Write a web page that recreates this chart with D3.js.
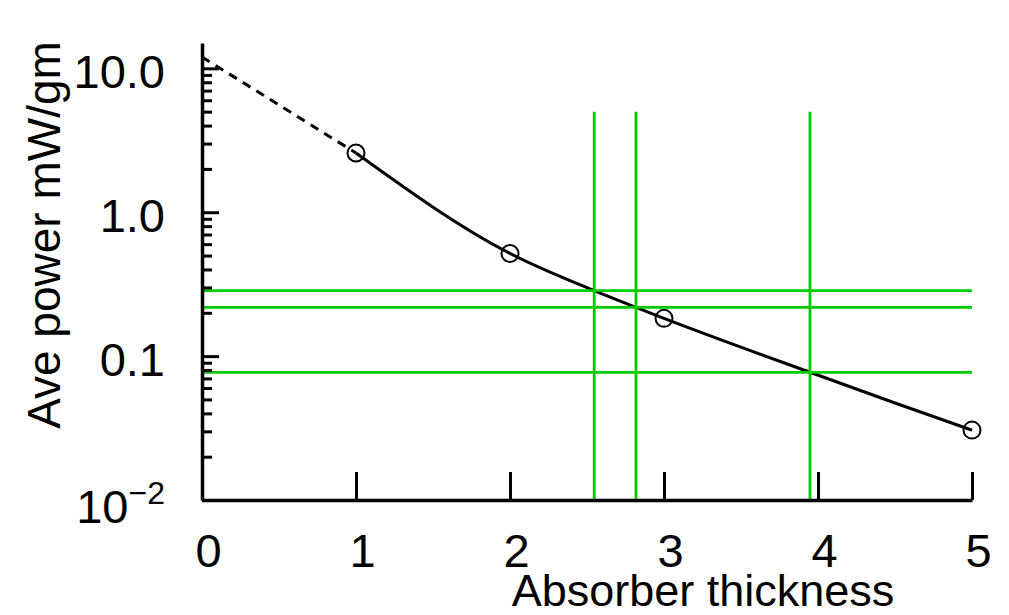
<!DOCTYPE html>
<html>
<head>
<meta charset="utf-8">
<script src="https://cdn.jsdelivr.net/npm/d3@7"></script>
<style>
  body { margin: 0; background: #fff; }
  svg { display: block; font-family: "Liberation Sans", Arial, sans-serif; }
</style>
</head>
<body>
<div id="chart"></div>
<script>
// measured points (circles)
const measX = [1, 2, 3, 5];
const measY = [2.58, 0.517, 0.183, 0.0306];

// fitted curve
const fitX = [1, 2, 2.547, 2.818, 3, 3.948, 4.5, 5];
const fitY = [2.58, 0.517, 0.285, 0.218, 0.183, 0.0772, 0.0472, 0.0306];

// dashed extrapolation to zero thickness
const extX = [0, 1];
const extY = [12, 2.58];

// green guide lines
const cutX = [2.547, 2.818, 3.948];
const cutY = [0.285, 0.218, 0.0772];

const xTicks = [0, 1, 2, 3, 4, 5];
const yMajor = [0.01, 0.1, 1, 10];

const W = 1009, H = 615;
const green = "#00cc00";

const svg = d3.select("#chart").append("svg")
    .attr("width", W).attr("height", H);

const x = d3.scaleLinear().domain([0, 5]).range([202, 972]);
const y = d3.scaleLog().domain([0.01, 15]).range([500, 43]);

// curve and extrapolation
svg.append("path")
    .datum(d3.zip(fitX, fitY))
    .attr("d", d3.line().x(d => x(d[0])).y(d => y(d[1])).curve(d3.curveMonotoneX))
    .attr("fill", "none")
    .attr("stroke", "#000")
    .attr("stroke-width", 3);

svg.append("path")
    .datum(d3.zip(extX, extY))
    .attr("d", d3.line().x(d => x(d[0])).y(d => y(d[1])))
    .attr("fill", "none")
    .attr("stroke", "#000")
    .attr("stroke-width", 3)
    .attr("stroke-dasharray", "9,7");

// green guide lines
svg.append("g").selectAll("line")
    .data(cutX)
    .join("line")
    .attr("x1", d => x(d)).attr("x2", d => x(d))
    .attr("y1", y(0.01)).attr("y2", y(5))
    .attr("stroke", green).attr("stroke-width", 2.8);

svg.append("g").selectAll("line")
    .data(cutY)
    .join("line")
    .attr("x1", x(0)).attr("x2", x(5))
    .attr("y1", d => y(d)).attr("y2", d => y(d))
    .attr("stroke", green).attr("stroke-width", 2.8);

// circles
svg.append("g").selectAll("circle")
    .data(d3.zip(measX, measY))
    .join("circle")
    .attr("cx", d => x(d[0]))
    .attr("cy", d => y(d[1]))
    .attr("r", 8.5)
    .attr("fill", "none")
    .attr("stroke", "#000")
    .attr("stroke-width", 2);

// y axis: minor ticks
const yMinor = y.ticks().filter(v => !yMajor.some(m => Math.abs(m - v) < 1e-9));
const yMinorAxis = svg.append("g")
    .attr("transform", `translate(${x(0)},0)`)
    .call(d3.axisLeft(y).tickValues(yMinor).tickSize(-10).tickSizeOuter(0).tickFormat(""));
yMinorAxis.select(".domain").remove();
yMinorAxis.selectAll("line").attr("stroke-width", 3);

// y axis: major ticks and labels
const yAxis = svg.append("g")
    .attr("transform", `translate(${x(0)},0)`)
    .call(d3.axisLeft(y).tickValues(yMajor).tickSize(-17).tickSizeOuter(0).tickPadding(37)
        .tickFormat(d => d === 0.01 ? "" : d3.format(".1f")(d)));
yAxis.select(".domain").attr("stroke-width", 3.5);
yAxis.selectAll("line").attr("stroke-width", 3);
yAxis.selectAll("text")
    .attr("font-size", 47)
    .attr("font-family", "Liberation Sans, Arial, sans-serif")
    .attr("fill", "#000")
    .attr("dy", "0.41em");

const lowLabel = yAxis.selectAll("text").filter(d => d === 0.01).attr("dy", "0.48em");
lowLabel.append("tspan").text("10");
lowLabel.append("tspan").text("\u22122").attr("font-size", 32).attr("dy", "-0.6em");

// x axis
const xAxis = svg.append("g")
    .attr("transform", `translate(0,${y(0.01)})`)
    .call(d3.axisBottom(x).tickValues(xTicks).tickSize(-28).tickSizeOuter(0).tickPadding(34)
        .tickFormat(d3.format("d")));
xAxis.select(".domain").attr("stroke-width", 3.5);
xAxis.selectAll("line").attr("stroke-width", 3);
xAxis.selectAll("text")
    .attr("font-size", 47)
    .attr("font-family", "Liberation Sans, Arial, sans-serif")
    .attr("fill", "#000")
    .attr("dx", 6);

// axis titles
svg.append("text")
    .attr("x", 703).attr("y", 606)
    .attr("text-anchor", "middle")
    .attr("font-size", 45)
    .text("Absorber thickness");

svg.append("text")
    .attr("transform", "translate(60,235) rotate(-90)")
    .attr("text-anchor", "middle")
    .attr("font-size", 46)
    .text("Ave power mW/gm");
</script>
</body>
</html>
